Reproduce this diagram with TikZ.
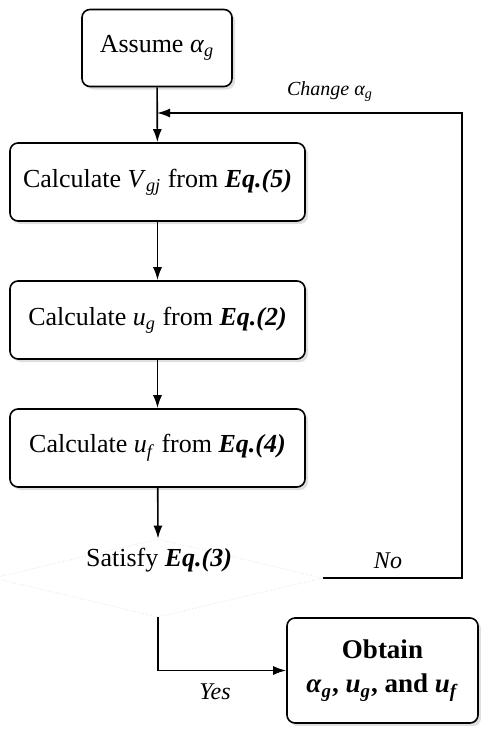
\documentclass[tikz,border=0pt]{standalone}
\usepackage{amsmath,amssymb}
\usepackage{fontspec}
\setmainfont{Liberation Serif}
\usepackage{tikz}
\usetikzlibrary{positioning, calc, arrows.meta, shapes.geometric, shadows}

% italic symbol with italic subscript
\newcommand{\vsub}[2]{\textit{#1}\textsubscript{\textit{#2}}}

\tikzset{
    calcbox/.style={draw, line width=0.8pt, rounded corners=4pt, fill=white,
        minimum width=147.5pt, minimum height=39pt, font=\fontsize{13}{15}\selectfont,
        drop shadow={shadow xshift=1.5pt, shadow yshift=-1.5pt, fill=black!25}},
    flow/.style={-{Latex[length=6.5pt, width=4.5pt]}, line width=0.8pt},
    lbl/.style={font=\fontsize{12}{14}\selectfont\itshape}
}

\begin{document}
\begin{tikzpicture}[x=0.5pt, y=-0.5pt]
        % Fix page size
        \useasboundingbox (0,0) rectangle (481,729);

        % Draw boxes
        \node[calcbox, minimum width=75pt, minimum height=38.5pt] (assume) at (157,48) {Assume \vsub{α}{g}};
        \node[calcbox] (vgj) at (157.5,182) {Calculate \vsub{V}{gj} from \textbf{\textit{Eq.(5)}}};
        \node[calcbox] (ug) at (157.5,320) {Calculate \vsub{u}{g} from \textbf{\textit{Eq.(2)}}};
        \node[calcbox] (uf) at (157.5,448) {Calculate \vsub{u}{f} from \textbf{\textit{Eq.(4)}}};

        % Draw decision (faint outline)
        \node[diamond, draw=black!12, densely dotted, minimum width=165pt, minimum height=39pt, aspect=4] (test) at (158,578) {};
        \node[font=\fontsize{13}{15}\selectfont] (testlbl) at (159,560) {Satisfy \textbf{\textit{Eq.(3)}}};

        % Draw final box
        \node[calcbox, minimum width=95.5pt, minimum height=52.5pt, align=center,
              font=\fontsize{13.5}{17}\selectfont\bfseries] (obtain) at (382.5,670.5)
              {Obtain\\\vsub{α}{g}, \vsub{u}{g}, and \vsub{u}{f}};

        % Draw main flow
        \draw[flow] (assume) -- (vgj);
        \draw[flow] (vgj) -- (ug);
        \draw[flow] (ug) -- (uf);
        \draw[flow] (uf) -- (test.north);

        % Draw loop back
        \coordinate (fbtop) at (462,113);
        \coordinate (join) at (157,113);
        \draw[flow] (test.east) -| (fbtop) -- (join);
        \node[lbl] (nolbl) at (388,561) {No};
        \node[lbl, font=\fontsize{10}{12}\selectfont\itshape] (chglbl) at (330,92) {Change \vsub{α}{g}};

        % Draw exit
        \draw[flow] (test.south) |- (obtain.west);
        \node[lbl] (yeslbl) at (215,692) {Yes};
    \end{tikzpicture}
\end{document}
